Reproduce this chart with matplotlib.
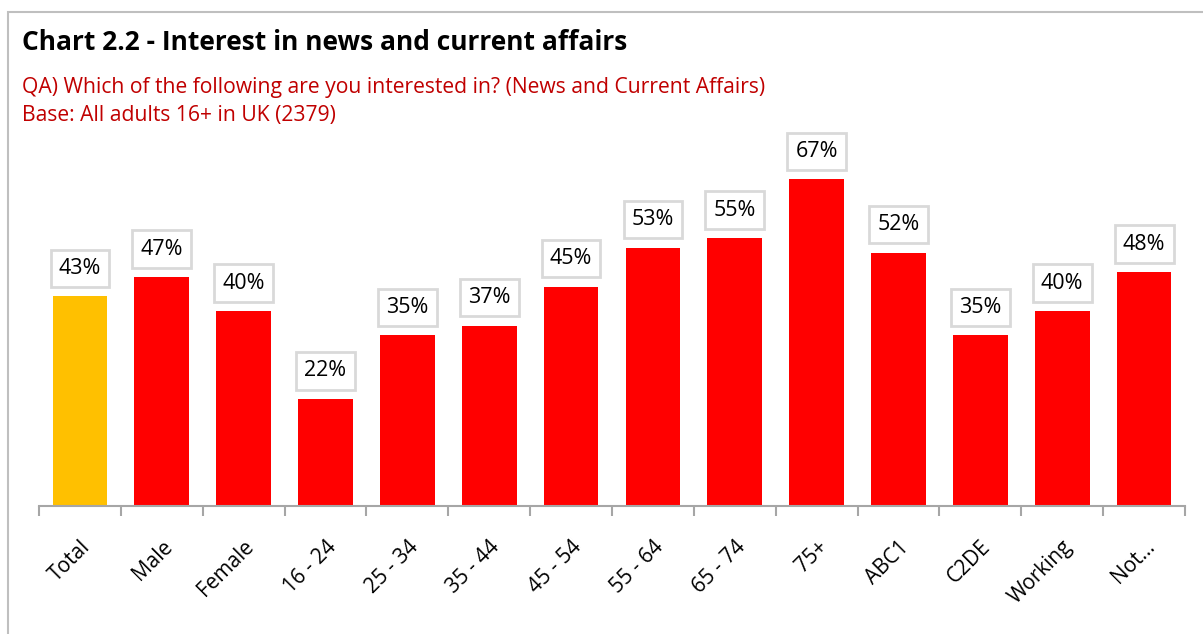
import numpy as np
import matplotlib.pyplot as plt
from matplotlib.patches import Rectangle

categories = ['Total', 'Male', 'Female', '16 - 24', '25 - 34', '35 - 44', '45 - 54',
              '55 - 64', '65 - 74', '75+', 'ABC1', 'C2DE', 'Working', 'Not...']
values = [43, 47, 40, 22, 35, 37, 45, 53, 55, 67, 52, 35, 40, 48]
colors = ['#FFC000'] + ['#FF0000'] * 13

plt.rcParams['font.family'] = ['Open Sans', 'DejaVu Sans']

W, H = 1203, 634
fig = plt.figure(figsize=(W / 100, H / 100), dpi=100)

# outer frame
fig.patches.append(Rectangle((8 / W, -0.1), 1.2, 1 - 12 / H + 0.1, transform=fig.transFigure,
                             fill=False, edgecolor='#BFBFBF', linewidth=1.5))

ax = fig.add_axes([39 / W, 1 - 506 / H, (1185 - 39) / W, (506 - 116) / H])
x = np.arange(len(categories))
ax.bar(x, values, width=0.67, color=colors)

for xi, v in zip(x, values):
    ax.annotate(f'{v}%', (xi, v), xytext=(0, 12.5), textcoords='offset points',
                ha='center', va='bottom', fontsize=15.5,
                bbox=dict(boxstyle='square,pad=0.38', fc='white', ec='#D9D9D9', lw=2))

ax.set_xlim(-0.5, len(categories) - 0.5)
ax.set_ylim(0, 80)
for s in ['top', 'right', 'left']:
    ax.spines[s].set_visible(False)
ax.spines['bottom'].set_color('#A6A6A6')
ax.spines['bottom'].set_linewidth(1.5)
ax.set_yticks([])
ax.set_xticks(x)
ax.set_xticklabels(categories, rotation=45, ha='right', rotation_mode='anchor', fontsize=15)
ax.tick_params(axis='x', which='major', length=0, pad=22)
ax.set_xticks(np.arange(len(categories) + 1) - 0.5, minor=True)
ax.tick_params(axis='x', which='minor', length=7, width=1.5, color='#A6A6A6')

fig.text(22 / W, 1 - 42 / H, 'Chart 2.2 - Interest in news and current affairs',
         fontsize=19, fontweight='bold', va='center', ha='left')
fig.text(22 / W, 1 - 87 / H, 'QA) Which of the following are you interested in? (News and Current Affairs)',
         fontsize=15.2, color='#C00000', va='center', ha='left')
fig.text(22 / W, 1 - 115 / H, 'Base: All adults 16+ in UK (2379)',
         fontsize=15.2, color='#C00000', va='center', ha='left')

fig.savefig('out.png', dpi=100)
